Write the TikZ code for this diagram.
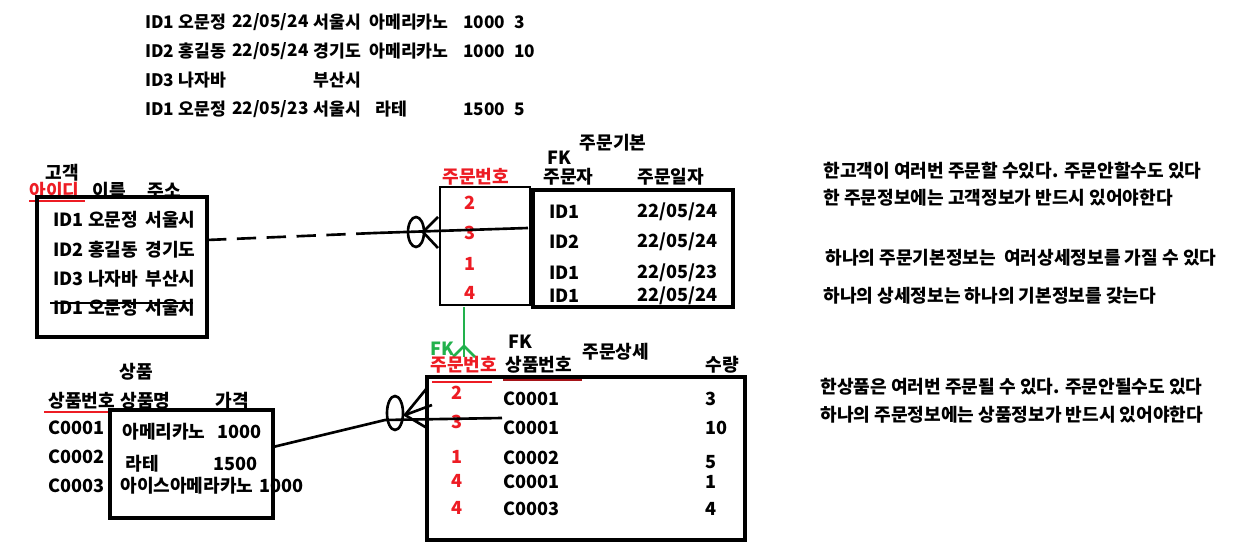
\documentclass[tikz,border=0pt]{standalone}
\usepackage{fontspec}
\setmainfont{Noto Sans CJK KR}
\usetikzlibrary{fit}
\definecolor{pkred}{RGB}{237,28,36}
\definecolor{fkgreen}{RGB}{34,177,76}
\tikzset{
  txt/.style={anchor=west,inner sep=0pt,font=\bfseries\fontsize{10.3}{12}\selectfont},
  jointxt/.style={txt,font=\bfseries\fontsize{9.8}{12}\selectfont},
  pk/.style={txt,text=pkred},
  num/.style={pk,anchor=center},
  tbl/.style={draw,line width=2pt,inner sep=0pt},
  link/.style={line width=1.5pt},
  pkline/.style={pkred,line width=1.5pt},
  fkline/.style={fkgreen,line width=1.5pt},
}
\begin{document}
\begin{tikzpicture}[x=0.02cm,y=-0.02cm]
  \useasboundingbox (0,0) rectangle (1237,550);
  % Joined rows
  \foreach \who/\day/\addr/\item/\price/\qty [count=\i] in
    {ID1 오문정/{22/05/24}/서울시/아메리카노/1000/3,
     ID2 홍길동/{22/05/24}/경기도/아메리카노/1000/10,
     ID3 나자바//부산시///,
     ID1 오문정/{22/05/23}/서울시/라테/1500/5}
  {
    \node[jointxt] (jw\i) at (145,{22+29*(\i-1)}) {\who};
    \node[jointxt] (jd\i) at (232,{22+29*(\i-1)}) {\day};
    \node[jointxt] (ja\i) at (313,{22+29*(\i-1)}) {\addr};
    \node[jointxt] (ji\i) at ({369+6*(\i==4)},{22+29*(\i-1)}) {\item};
    \node[jointxt] (jp\i) at (463,{22+29*(\i-1)}) {\price};
    \node[jointxt] (jq\i) at (514,{22+29*(\i-1)}) {\qty};
  }

  % Customer
  \node[txt] (custname) at (45,173) {고객};
  \node[pk] (custkey) at (29,191) {아이디};
  \node[txt] (custnm) at (92,191) {이름};
  \node[txt] (custaddr) at (147,191) {주소};
  \draw[pkline] (29,201) -- (85,201);
  \node[tbl,fit={(37,197) (207,337)}] (cust) {};
  \foreach \who/\addr [count=\i] in
    {ID1 오문정/서울시,ID2 홍길동/경기도,ID3 나자바/부산시,ID1 오문정/서울시}
  {
    \node[txt] (cw\i) at (53,{220+29.3*(\i-1)}) {\who};
    \node[txt] (ca\i) at (145,{220+29.3*(\i-1)}) {\addr};
  }
  \draw[link] (50,303) -- (193,303);

  % Order head
  \node[txt,anchor=center] (ordname) at (613,143) {주문기본};
  \node[txt] (ordfkmark) at (547,158) {FK};
  \node[pk] (ordkeyname) at (442,177) {주문번호};
  \node[txt] (ordwho) at (543,177) {주문자};
  \node[txt] (orddate) at (637,177) {주문일자};
  \node[tbl,line width=1.5pt,fit={(440,187) (530,305)}] (ordkey) {};
  \node[tbl,line width=2.4pt,fit={(533,190) (733,307)}] (ordbody) {};
  \foreach \no/\who/\day/\y [count=\i] in
    {2/ID1/{22/05/24}/212,3/ID2/{22/05/24}/242,1/ID1/{22/05/23}/273,4/ID1/{22/05/24}/296}
  {
    \node[num] (on\i) at (470,{\y-9+(\i==4)*6}) {\no};
    \node[txt] (ow\i) at (549,\y) {\who};
    \node[txt] (od\i) at (637,\y) {\day};
  }

  % Customer to order
  \coordinate (custport) at (207,240);
  \coordinate (custbend) at (375,233);
  \coordinate (ordport) at (528,228);
  \draw[link,dash pattern=on 11pt off 6pt] (custport) -- (custbend);
  \draw[link] (custbend) -- (ordport);
  \draw[link] (416,232) ellipse [x radius=8,y radius=15];
  \draw[link] (438,217) -- (423,232) -- (438,248);

  % Order to detail
  \coordinate (ordfk) at (464,307);
  \coordinate (detfk) at (464,357);
  \draw[fkline] (ordfk) -- (detfk);
  \draw[fkline] (453,357) -- (464,346) -- (475,357);
  \node[txt,text=fkgreen] (detfkmark) at (430,349) {FK};

  % Detail
  \node[txt] (detname) at (582,352) {주문상세};
  \node[txt] (detfkmark2) at (508,342) {FK};
  \node[pk] (detkey) at (430,365) {주문번호};
  \node[txt] (detitem) at (505,365) {상품번호};
  \node[txt] (detqty) at (705,365) {수량};
  \draw[pkline] (432,382) -- (492,382);
  \draw[pkred!70!black,line width=1pt] (503,380) -- (582,380);
  \node[tbl,line width=2.2pt,fit={(427,377) (745,540)}] (det) {};
  \foreach \no/\item/\qty/\y [count=\i] in
    {2/C0001/3/399,3/C0001/10/428,1/C0002/5/458,4/C0001/1/482,4/C0003/4/509}
  {
    \node[num] (dn\i) at (457,{\y-6+(\i>2)*5}) {\no};
    \node[txt] (di\i) at (503,\y) {\item};
    \node[txt] (dq\i) at (705,{\y+(\i==3)*4}) {\qty};
  }

  % Product
  \node[txt] (prodname) at (119,372) {상품};
  \node[txt] (prodkey) at (48,401) {상품번호};
  \node[txt] (prodnm) at (120,401) {상품명};
  \node[txt] (prodprice) at (215,401) {가격};
  \draw[pkline] (44,412) -- (110,412);
  \node[tbl,fit={(110,410) (273,518)}] (prod) {};
  \foreach \code/\y [count=\i] in {C0001/428,C0002/457,C0003/486}
    \node[txt] (pc\i) at (48,\y) {\code};
  \node[txt] (pn1) at (122,432) {아메리카노};
  \node[txt] (pp1) at (217,432) {1000};
  \node[txt] (pn2) at (125,464) {라테};
  \node[txt] (pp2) at (213,464) {1500};
  \node[txt] (pn3) at (120,486) {아이스아메라카노};
  \node[txt] (pp3) at (259,486) {1000};

  % Product to detail
  \coordinate (prodport) at (273,447);
  \coordinate (prodbend) at (385,420);
  \coordinate (detport) at (502,418);
  \draw[link] (prodport) -- (prodbend) -- (detport);
  \draw[link] (395,413) ellipse [x radius=8,y radius=17];
  \draw[link] (427,388) -- (405,415) -- (427,428);
  \draw[link] (405,415) -- (432,405);

  % Notes
  \node[txt] (note1) at (823,171) {한고객이 여러번 주문할 수있다. 주문안할수도 있다};
  \node[txt] (note2) at (823,198) {한 주문정보에는 고객정보가 반드시 있어야한다};
  \node[txt] (note3) at (825,258) {하나의 주문기본정보는\ \ 여러상세정보를 가질 수 있다};
  \node[txt] (note4) at (823,296) {하나의 상세정보는 하나의 기본정보를 갖는다};
  \node[txt] (note5) at (820,387) {한상품은 여러번 주문될 수 있다. 주문안될수도 있다};
  \node[txt] (note6) at (820,415) {하나의 주문정보에는 상품정보가 반드시 있어야한다};
\end{tikzpicture}
\end{document}
